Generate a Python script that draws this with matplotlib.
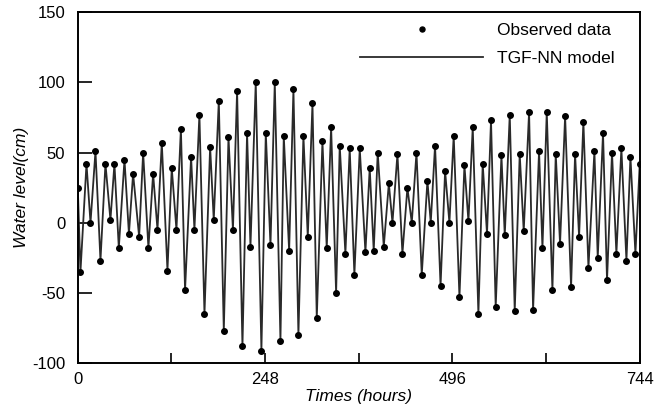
import matplotlib
matplotlib.use("Agg")
import matplotlib.pyplot as plt

plt.rcParams['font.family'] = ['Liberation Sans', 'DejaVu Sans']
plt.rcParams['axes.unicode_minus'] = False

# turning points of the tide (hours, cm)
hours = [0, 3.5, 11.5, 16.8, 23.4, 30, 36.6, 43.2, 48.5, 54.3, 61.8, 67.7,
         73.2, 81.2, 86.5, 93.5, 99.7, 105.5, 111.2, 118.7, 124.4, 130.6, 136.5,
         142, 150, 154.4, 161, 167.7, 175.2, 180, 186.7, 193.3, 199.5, 205.4,
         210.9, 218, 224.1, 228.6, 235.6, 243.1, 248.9, 255.1, 260.8, 268.3,
         272.7, 279.8, 285.5, 292.1, 298.7, 304.5, 310.7, 316.4, 323.9, 329.6,
         335.4, 342, 346.8, 354.3, 360, 366.2, 373.3, 380.8, 386.5, 391.8,
         397.1, 405.1, 411.8, 416.6, 423.2, 429.8, 436.4, 442.2, 448.4, 455.4,
         462.9, 467.3, 473, 480.3, 486.3, 492, 497.7, 505.3, 511.9, 517.2,
         522.9, 530.4, 536.1, 541.8, 547.1, 553.3, 560.9, 565.3, 571.9, 578.5,
         585.1, 590.4, 597.5, 602.8, 610.7, 615.2, 620.9, 628.4, 632.8, 638.5,
         645.2, 653.1, 658.4, 663.7, 669.4, 676.1, 684, 688.4, 695.4, 700.7,
         707.3, 713.1, 719.7, 726.4, 731.7, 738.3, 744]
observed = [25, -35, 42, 0, 51, -27, 42, 2, 42, -18, 45, -8,
            35, -10, 50, -18, 35, -5, 57, -34, 39, -5, 67,
            -48, 47, -5, 77, -65, 54, 2, 87, -77, 61, -5,
            94, -88, 64, -17, 100, -91, 64, -16, 100, -84,
            62, -20, 95, -80, 62, -10, 85, -68, 58, -18,
            68, -50, 55, -22, 53, -37, 53, -21, 39, -20,
            50, -17, 28, 0, 49, -22, 25, 0, 50, -37,
            30, 0, 55, -45, 37, 0, 62, -53, 41, 1,
            68, -65, 42, -8, 73, -60, 48, -9, 77, -63,
            49, -6, 79, -62, 51, -18, 79, -48, 49, -15,
            76, -46, 49, -10, 72, -32, 51, -25, 64, -41,
            50, -22, 53, -27, 47, -22, 42]
model = observed

fig = plt.figure(figsize=(6.65, 4.17), dpi=100)
ax = fig.add_axes([0.117, 0.129, 0.845, 0.842])

ax.plot(hours, model, color='#2a2a2a', lw=1.3, label='TGF-NN model', zorder=2)
ax.plot(hours, observed, 'o', color='black', ms=4, label='Observed data', zorder=3)

ax.set_xlim(0, 744)
ax.set_ylim(-100, 150)
ax.set_xticks([0, 124, 248, 372, 496, 620, 744])
ax.set_xticklabels(['0', '', '248', '', '496', '', '744'])
ax.set_yticks([-100, -50, 0, 50, 100, 150])
ax.tick_params(axis='x', direction='in', length=7, width=1.2, labelsize=12, pad=6)
ax.tick_params(axis='y', direction='in', length=10, width=1.2, labelsize=12, pad=9)
for s in ax.spines.values():
    s.set_linewidth(1.4)

ax.set_xlabel('Times (hours)', fontsize=12.5, style='italic', labelpad=2)
ax.set_ylabel('Water level(cm)', fontsize=12.5, style='italic', labelpad=2)

h, l = ax.get_legend_handles_labels()
ax.legend(h[::-1], l[::-1], loc='upper right', bbox_to_anchor=(0.973, 1.0),
          frameon=False, fontsize=12.5, handlelength=7.1, numpoints=1,
          labelspacing=0.75, borderaxespad=0.2, handletextpad=0.75,
          markerscale=0.9)

fig.savefig('out.png', dpi=100)
